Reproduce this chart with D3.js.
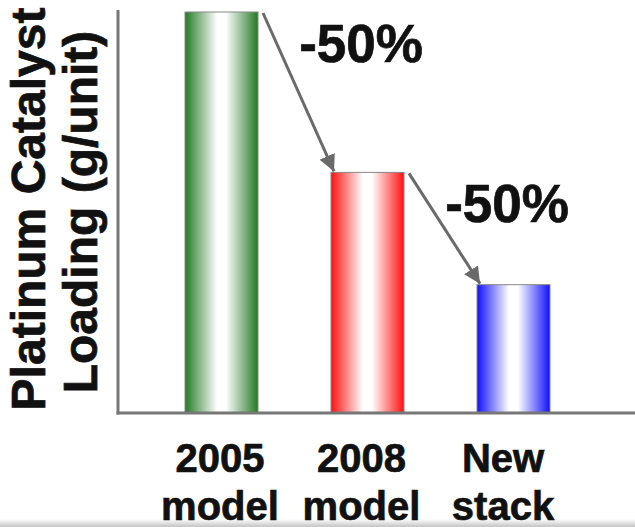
<!DOCTYPE html>
<html>
<head>
<meta charset="utf-8">
<script src="https://cdn.jsdelivr.net/npm/d3@7"></script>
<style>
  html, body { margin: 0; padding: 0; background: #fff; }
  svg { display: block; }
  text { font-family: "Liberation Sans", Arial, sans-serif; font-weight: bold; fill: #111;
         stroke: #111; stroke-width: 0.7px; }
</style>
</head>
<body>
<svg id="chart" width="635" height="527"></svg>
<script>
// Platinum catalyst loading per unit, relative to the 2005 model
const categories = ["2005 model", "2008 model", "New stack"];
const loading = [100, 60, 32];
const tickLines = [["2005", "model"], ["2008", "model"], ["New", "stack"]];
const barColors = ["#237a23", "#ff1010", "#1010ff"];
const changeLabels = ["-50%", "-50%"];
const yTitle = ["Platinum Catalyst", "Loading (g/unit)"];

const svg = d3.select("#chart");
const W = 635, H = 527;
const axisX = 118, axisY = 413, topY = 12;

const x = d3.scaleBand().domain(categories).range([148.5, 586.5])
  .paddingInner(0.5).paddingOuter(0.25);
const xLabel = d3.scalePoint().domain(categories).range([220, 503]);
const y = d3.scaleLinear().domain([0, 100]).range([axisY, topY]);

const defs = svg.append("defs");
barColors.forEach((c, i) => {
  const g = defs.append("linearGradient").attr("id", "grad" + i)
    .attr("x1", "0%").attr("x2", "100%").attr("y1", "0%").attr("y2", "0%");
  g.append("stop").attr("offset", "0%").attr("stop-color", c);
  g.append("stop").attr("offset", "44%").attr("stop-color", "#fff");
  g.append("stop").attr("offset", "56%").attr("stop-color", "#fff");
  g.append("stop").attr("offset", "100%").attr("stop-color", c);
});
defs.append("marker").attr("id", "arrow")
  .attr("viewBox", "0 0 10 10").attr("refX", 10).attr("refY", 5)
  .attr("markerWidth", 5.5).attr("markerHeight", 5.5)
  .attr("markerUnits", "strokeWidth").attr("orient", "auto")
  .append("path").attr("d", "M0,0 L10,5 L0,10 Z").attr("fill", "#6a6a6a");

// bottom shading strip
const strip = defs.append("linearGradient").attr("id", "strip")
  .attr("x1", "0%").attr("x2", "0%").attr("y1", "0%").attr("y2", "100%");
strip.append("stop").attr("offset", "0%").attr("stop-color", "#fff");
strip.append("stop").attr("offset", "100%").attr("stop-color", "#c4c4c4");
svg.append("rect").attr("x", 0).attr("y", 519).attr("width", W).attr("height", 8)
  .attr("fill", "url(#strip)");

// bars
svg.selectAll("rect.bar").data(categories).join("rect")
  .attr("class", "bar")
  .attr("x", d => x(d))
  .attr("y", (d, i) => y(loading[i]))
  .attr("width", x.bandwidth())
  .attr("height", (d, i) => axisY - y(loading[i]))
  .attr("fill", (d, i) => `url(#grad${i})`)
  .attr("stroke", "#888").attr("stroke-width", 1);

// axes
svg.append("line").attr("x1", axisX).attr("x2", axisX)
  .attr("y1", 10).attr("y2", axisY + 1.5)
  .attr("stroke", "#777").attr("stroke-width", 3);
svg.append("line").attr("x1", axisX - 1.5).attr("x2", W)
  .attr("y1", axisY).attr("y2", axisY)
  .attr("stroke", "#777").attr("stroke-width", 3);

// category labels
tickLines.forEach((lines, i) => {
  const t = svg.append("text").attr("text-anchor", "middle")
    .attr("font-size", 40).attr("x", xLabel(categories[i]));
  lines.forEach((s, j) => t.append("tspan")
    .attr("x", xLabel(categories[i])).attr("y", 472 + j * 48).text(s));
});

// y axis title
yTitle.forEach((s, j) => {
  svg.append("text").attr("text-anchor", "middle").attr("font-size", 48)
    .attr("transform", `translate(${45 + j * 52},${209 + j * 3}) rotate(-90)`)
    .text(s);
});

// change arrows between successive bars
for (let i = 0; i < loading.length - 1; i++) {
  const a = categories[i], b = categories[i + 1];
  const x1 = x(a) + x.bandwidth() + 5, y1 = y(loading[i]) + 1;
  const x2 = x(b) + 3, y2 = y(loading[i + 1]) - 1;
  svg.append("line").attr("x1", x1).attr("y1", y1).attr("x2", x2).attr("y2", y2)
    .attr("stroke", "#6a6a6a").attr("stroke-width", 3)
    .attr("marker-end", "url(#arrow)");
  svg.append("text").attr("text-anchor", "middle").attr("font-size", 53)
    .attr("x", x(b) + 30).attr("y", y(loading[i]) + 50)
    .text(changeLabels[i]);
}
</script>
</body>
</html>
